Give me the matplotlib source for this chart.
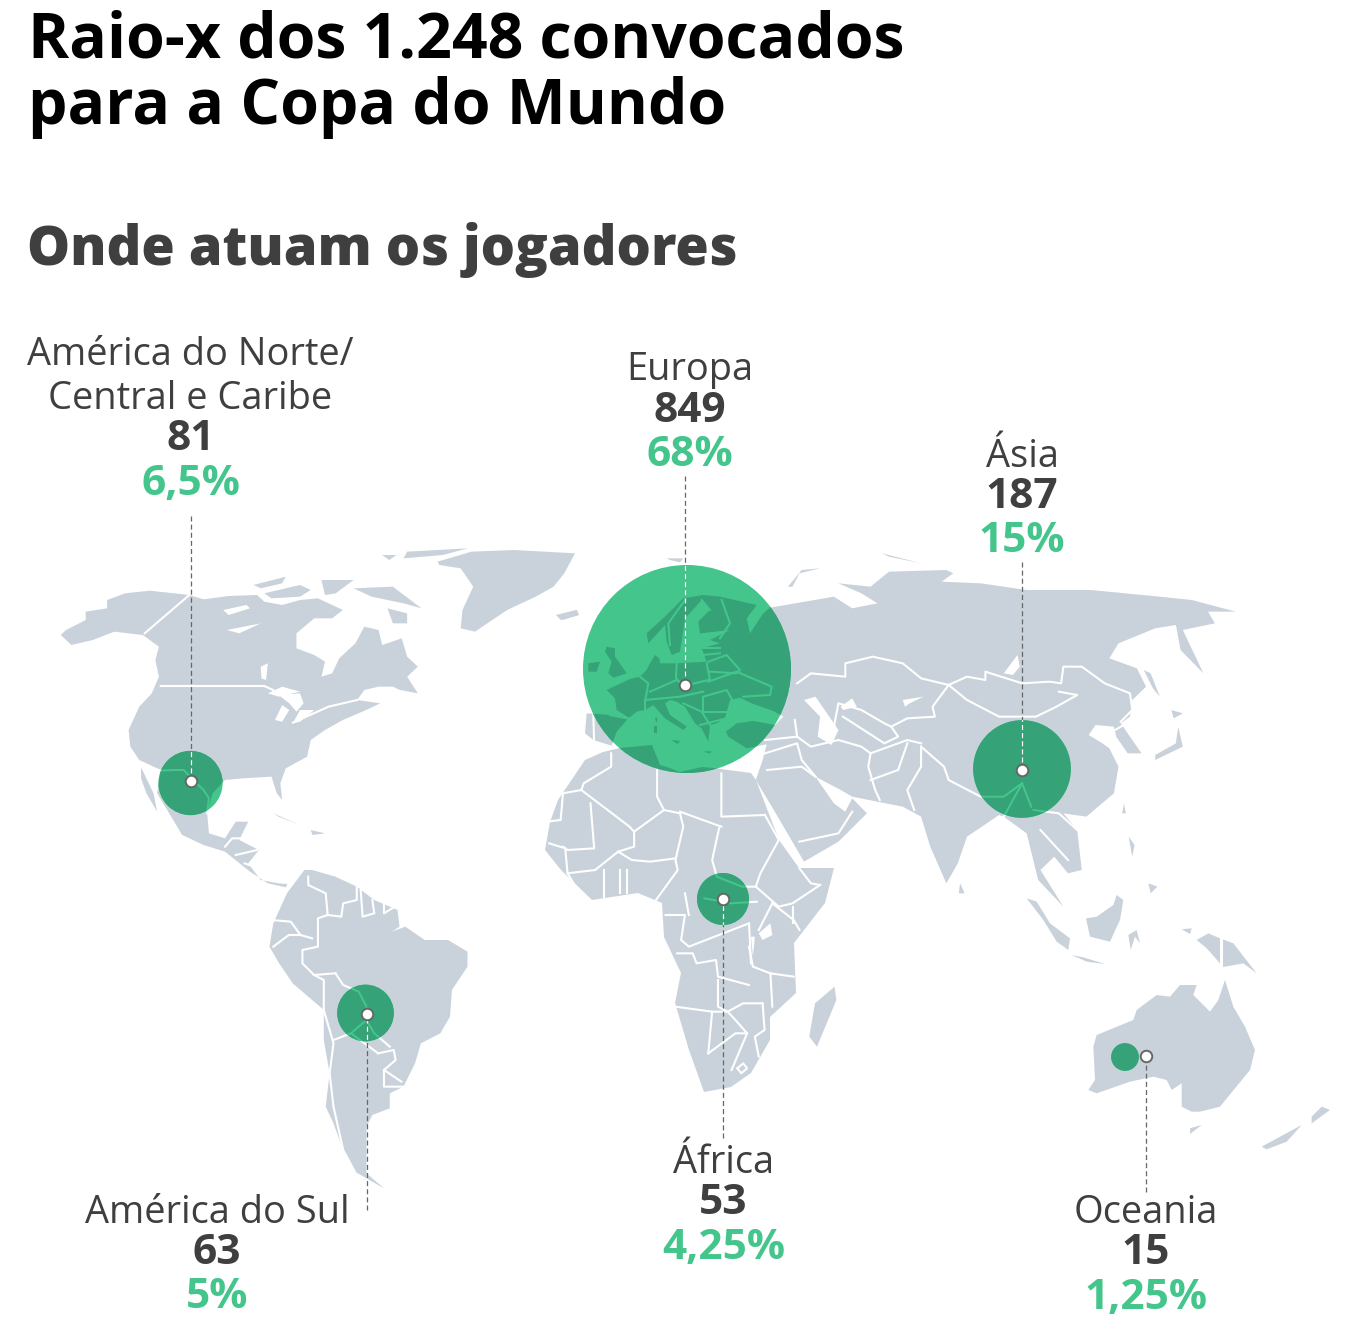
import numpy as np
import matplotlib
matplotlib.use('Agg')
import matplotlib.pyplot as plt
from matplotlib.patches import Circle, Polygon

# ---- data ----
regions = ['América do Norte/\nCentral e Caribe', 'Europa', 'Ásia', 'África', 'América do Sul', 'Oceania']
players = [81, 849, 187, 53, 63, 15]
shares = ['6,5%', '68%', '15%', '4,25%', '5%', '1,25%']
title = 'Raio-x dos 1.248 convocados\npara a Copa do Mundo'
subtitle = 'Onde atuam os jogadores'

# ---- layout ----
W, H = 1351, 1333
bubble_xy = [(190.5, 783), (687, 669), (1022, 769), (723, 899), (365.5, 1013), (1125, 1057)]
pin_xy = [(190.5, 781), (685, 685), (1022, 770), (723, 899), (367, 1014), (1146, 1056)]
line_end = [516, 476, 562, 1138, 1210, 1192]
label_x = [190.5, 690, 1022, 723.5, 217, 1146]
label_top = [351, 366, 453, 1159, 1209, 1209]
LAND, DARK, GREEN, TXT = '#c9d2da', '#35a277', '#43c58b', '#3f3f3f'
R_SCALE = 104 / np.sqrt(849)

def z(pts, ox, oy, sx, sy):
    return [(ox + a / sx, oy + b / sy) for a, b in pts]
def z1(p): return z(p, 50, 530, 2.8, 3)
def z2(p): return z(p, 540, 540, 2.178, 3)
def z3(p): return z(p, 250, 860, 2.575, 3)
def z4(p): return z(p, 1000, 880, 3, 3)
def z5(p): return z(p, 570, 555, 3, 3)

land = [z1(p) for p in [
 [(45,300),(100,270),(100,245),(160,235),(160,210),(210,190),(280,182),(390,195),(430,208),(500,198),(580,195),(600,215),(650,225),(700,210),(750,205),(790,225),(820,240),(790,265),(740,265),(690,310),(690,355),(740,375),(770,395),(760,440),(790,430),(810,385),(855,340),(880,290),(920,300),(930,345),(985,325),(1000,380),(1030,410),(1000,440),(1030,490),(980,480),(960,470),(920,470),(880,480),(860,510),(925,520),(885,540),(820,570),(770,600),(730,630),(720,680),(660,715),(645,760),(650,810),(635,790),(620,740),(540,745),(490,750),(455,790),(440,850),(445,910),(490,925),(520,875),(555,875),(530,930),(585,960),(555,1000),(590,1050),(640,1060),(665,1062),(660,1072),(610,1060),(560,1025),(490,965),(430,945),(370,915),(345,870),(300,790),(310,720),(250,690),(225,650),(220,600),(250,530),(285,490),(305,440),(295,390),(305,350),(260,315),(180,305),(120,330),(60,345),(30,315)],
 [(255,712),(290,790),(300,845),(270,790),(255,745)],
 [(1085,95),(1180,65),(1300,60),(1470,70),(1440,130),(1410,170),(1360,200),(1280,240),(1190,305),(1150,295),(1155,240),(1185,170),(1150,115),(1090,105)],
 [(1420,255),(1475,240),(1480,255),(1435,270)],
 [(570,165),(660,140),(650,160),(590,175)],
 [(600,190),(700,165),(730,180),(700,200),(620,205)],
 [(760,150),(850,150),(800,190),(770,195)],
 [(850,175),(960,170),(1040,235),(990,220),(900,200)],
 [(930,75),(970,75),(950,90)],
 [(1000,65),(1170,55),(1100,75),(990,85)],
 [(945,235),(1000,250),(1000,280),(960,280)],
 [(625,850),(700,885),(640,860)],
 [(730,900),(770,910),(735,915)],
]]
# Eurasia: Europe traced finely, the rest more broadly
eurasia = (
 z5([(125,572),(70,555),(45,535),(50,475),(120,480),(180,490),(140,465),(135,430),(110,405),(180,372),(210,365),(230,345),(240,325),(255,300),(268,310),(270,325),(320,325),(410,320),(395,280),(450,265),(420,255),(480,225),(390,235),(385,200),(420,165),(395,135),(345,190),(330,290),(305,300),(290,260),(285,210),(235,265),(230,235),(290,180),(340,130),(400,120),(450,125),(560,150),(530,190),(540,235),(580,175),(600,158)])
 + z2([(640,170),(680,205),(735,190),(700,160),(650,130),(720,140),(760,95),(885,90),(900,100),(875,125),(960,130),(1060,150),(1200,150),(1350,170),(1420,180),(1515,215),(1455,215),(1470,250),(1400,270),(1445,400),(1395,330),(1385,255),(1340,265),(1260,310),(1240,355),(1300,385),(1320,440),(1290,480),(1285,530),(1265,550),(1310,640),(1280,640),(1255,590),(1250,560),(1210,555),(1195,585),(1225,610),(1240,625),(1260,680),(1250,760),(1190,830),(1140,820),(1170,870),(1180,990),(1150,1000),(1120,950),(1090,990),(1140,1100),(1085,1020),(1060,880),(1010,830),(1000,825),(930,890),(910,970),(885,1030),(850,920),(830,830),(790,800),(735,785),(680,770),(655,750),(600,710),(640,790),(665,815),(680,775),(712,820),(650,905),(575,965),(505,800),(470,720),(485,660)])
 + z5([(590,568),(530,580),(475,545),(468,530),(500,505),(550,498),(615,510),(640,485),(610,468),(545,445),(510,428),(480,435),(465,490),(440,505),(420,510),(415,560),(395,520),(375,505),(345,455),(320,440),(300,435),(285,445),(300,480),(350,515),(340,525),(285,490),(250,450),(225,465),(200,470),(175,490),(140,530)])
)
land.append(eurasia)
land += [z5(p) for p in [
 [(110,275),(135,280),(135,305),(170,355),(130,368),(115,355),(125,320),(105,290)],
 [(55,325),(90,320),(80,350),(55,350)],
 [(252,512),(260,512),(260,535),(252,535)],
 [(255,488),(262,488),(260,505)],
 [(305,555),(330,558),(322,567)],
 [(400,590),(425,588),(420,595)],
 [(290,10),(340,10),(330,22),(300,15)],
]]
land += [z2(p) for p in [
 [(35,225),(80,210),(85,225),(45,240)],
 [(540,140),(570,90),(610,85),(565,100),(550,140)],
 [(745,40),(830,70),(760,50)],
 # Japan, Sakhalin etc.
 [(1390,560),(1400,620),(1340,660),(1340,645),(1385,610)],
 [(1375,510),(1400,520),(1380,535)],
 [(1315,390),(1330,400),(1350,470),(1335,445)],
 [(915,1030),(925,1060),(912,1060)],
 [(1272,790),(1276,820),(1268,820)],
 [(1282,890),(1295,915),(1290,950)],
 [(1325,1030),(1345,1040),(1330,1060)],
]]
land += [z3(p) for p in [
 # South America
 [(50,260),(60,190),(95,100),(140,30),(160,30),(220,50),(275,80),(320,120),(380,150),(385,200),(365,215),(400,200),(450,240),(510,240),(560,275),(560,320),(520,390),(515,470),(490,520),(440,550),(425,610),(395,680),(360,700),(360,745),(315,765),(300,800),(300,880),(300,940),(345,985),(270,935),(240,870),(215,790),(195,740),(205,640),(190,540),(190,450),(110,370),(75,310)],
 # Madagascar
 [(1505,380),(1510,420),(1460,560),(1440,530),(1455,430)],
]]
# Africa
land.append([(550,822),(558,800),(585,760),(603,752),(620,748),(652,745),(660,765),(667,767),(680,772),(702,767),(713,768),(751,773),(756,780),(779,840),(799,868),(834,868),(825,903),(794,943),(796,993),(770,1017),(770,1040),(751,1073),(731,1087),(704,1092),(689,1050),(675,1003),(681,973),(664,937),(662,903),(638,893),(592,900),(561,870),(545,850)])
land += [z4(p) for p in [
 # Oceania and Indonesia
 [(265,630),(285,600),(280,500),(290,465),(400,420),(410,390),(470,345),(510,350),(540,315),(590,315),(580,345),(630,395),(655,360),(675,300),(700,380),(735,440),(765,510),(750,570),(660,680),(600,695),(575,695),(545,680),(545,610),(515,630),(500,600),(460,590),(390,605),(290,640)],
 [(570,745),(605,735),(570,762)],
 [(785,800),(905,735),(860,785),(800,808)],
 [(935,710),(965,680),(990,690),(935,730)],
 [(80,55),(110,65),(150,130),(210,175),(205,210),(170,185),(130,120)],
 [(215,225),(250,232),(315,252),(260,245)],
 [(258,115),(290,110),(340,75),(350,45),(370,60),(360,120),(330,185),(270,170)],
 [(385,165),(410,150),(420,190),(405,170),(392,210)],
 [(545,148),(575,145),(570,162)],
 [(590,180),(625,160),(660,175),(660,250),(620,205)],
 [(668,178),(700,190),(770,280),(730,250),(665,262)],
]]

lakes = [z1(p) for p in [
 [(630,570),(650,525),(670,540),(650,575)],
 [(680,580),(700,540),(740,540),(700,575)],
 [(610,490),(650,470),(700,485),(640,500)],
 [(640,495),(700,490),(710,520),(690,545),(670,520)],
 [(485,240),(550,225),(560,235),(500,255)],
 [(495,300),(590,280),(530,310)],
 [(590,410),(610,400),(605,450),(592,445)],
]]
lakes += [z2(p) for p in [
 [(575,480),(600,470),(630,530),(650,570),(635,615),(605,590),(610,530)],
 [(655,500),(680,475),(690,500),(660,510)],
 [(790,480),(835,470),(805,490),(795,500)],
 [(1010,400),(1040,345),(1045,380),(1030,405)],
]]
lakes += [z3(p) for p in [
 [(1310,220),(1340,190),(1345,225),(1320,240)],
 [(1290,230),(1300,230),(1295,290)],
]]

borders = [z1(p) for p in [
 [(310,468),(600,468),(625,480)],
 [(390,195),(265,310)],
 [(680,578),(780,530),(860,510)],
 [(255,705),(310,722),(345,720),(375,720),(400,750),(430,780),(445,805),(440,850)],
 [(490,950),(510,925),(540,925)],
 [(520,975),(580,960)],
 [(545,1000),(585,1015)],
]]
borders += [z5(p) for p in [
 [(70,478),(72,555)],
 [(120,480),(180,492)],
 [(210,365),(235,385),(225,440),(225,465)],
 [(320,325),(318,370),(332,385)],
 [(240,410),(320,375),(345,392),(415,375)],
 [(410,325),(420,375)],
 [(420,350),(500,355),(510,345),(470,300),(415,320)],
 [(415,380),(500,350),(605,395),(600,420),(520,425)],
 [(400,425),(470,405),(490,440)],
 [(395,300),(450,295)],
 [(400,280),(450,280)],
 [(455,135),(480,205),(450,250)],
 [(345,135),(295,205),(300,270)],
 [(395,135),(420,165)],
 [(225,435),(330,425),(400,410)],
 [(340,445),(395,470),(420,510)],
 [(395,470),(475,470)],
 [(400,470),(400,425)],
 [(390,510),(470,490)],
]]
borders += [z2(p) for p in [
 # North Africa
 [(155,640),(155,680),(95,730),(90,750),(50,760),(45,840),(15,845)],
 [(90,750),(195,860),(205,875),(270,810),(255,770),(255,690)],
 [(110,790),(118,925),(60,930),(50,920)],
 [(205,875),(205,920),(170,935),(120,990)],
 [(270,810),(305,820),(312,860),(295,960),(300,990),(250,1085)],
 [(305,815),(395,860)],
 [(395,700),(395,830),(490,825)],
 [(390,865),(375,960),(385,1010),(440,1040),(470,1040)],
 [(490,825),(520,900),(480,1000),(470,1040),(520,1100),(550,1090),(610,1035)],
 [(565,985),(590,1030),(610,1035)],
 [(550,1100),(550,1150)],
 [(170,935),(200,960),(240,965),(295,955)],
 [(20,910),(55,925),(60,1000),(95,1080)],
 [(60,1000),(120,990)],
 [(140,990),(140,1070)],[(175,990),(175,1060)],[(190,990),(190,1060)],
 # Asia
 [(560,430),(590,400),(665,410),(665,370),(725,350),(790,370),(830,415),(890,435)],
 [(890,435),(930,410),(970,420),(970,395),(1050,430),(1110,425),(1135,430),(1140,380),(1180,380),(1230,430),(1285,460),(1290,510),(1265,545)],
 [(890,435),(930,480),(1000,530),(1080,530),(1125,500),(1170,465),(1130,455)],
 [(890,435),(855,500),(860,530),(800,535),(765,560)],
 [(640,560),(650,490),(700,510),(750,550),(765,560)],
 [(660,530),(750,610),(780,590),(765,560)],
 [(560,590),(590,620),(650,600),(700,620),(720,640),(715,680),(730,750),(740,780)],
 [(720,640),(800,600),(830,610)],
 [(720,720),(780,690),(800,610)],
 [(830,620),(880,680),(890,720),(960,770),(1010,770),(1050,730),(1070,800)],
 [(830,620),(830,680),(800,750),(815,810)],
 [(1010,830),(1050,730)],
 [(1075,810),(1130,820),(1170,870)],
 [(1090,870),(1110,900),(1150,960)],
 [(495,690),(570,680),(600,710)],
 [(490,640),(560,610),(570,660),(600,710)],
 [(490,600),(560,590)],
 [(555,540),(560,590)],
 [(565,905),(650,880),(680,815)],
 [(1240,580),(1290,540)],
]]
borders += [z3(p) for p in [
 # South America
 [(150,50),(150,75),(195,100),(200,165),(235,170),(240,130),(275,120),(275,80)],
 [(285,90),(290,170),(320,160),(315,120)],
 [(345,115),(345,160),(380,135)],
 [(200,165),(175,175),(175,260),(135,270),(135,310),(165,345),(220,340)],
 [(55,180),(105,185),(130,225),(160,235)],
 [(60,260),(100,225),(130,225)],
 [(165,345),(190,360),(190,450),(215,550),(205,640),(215,740),(240,870),(270,935)],
 [(220,340),(240,375),(280,395),(300,440),(300,480),(320,520),(360,560)],
 [(215,540),(260,520),(300,480)],
 [(330,580),(370,570),(375,600),(345,630),(345,680),(395,680)],
 [(345,630),(390,665)],
 [(260,520),(330,580)],
 # Southern Africa
 [(1100,280),(1140,280),(1150,310),(1200,300),(1205,350),(1285,375)],
 [(1095,440),(1190,455),(1230,455),(1270,430),(1320,430)],
 [(1205,360),(1205,440),(1230,455)],
 [(1190,455),(1180,580)],
 [(1180,580),(1250,520),(1280,520),(1250,480),(1230,455)],
 [(1320,430),(1325,510),(1300,530),(1310,590)],
 [(1280,520),(1240,630)],
 [(1285,260),(1295,320),(1340,340),(1400,350)],
 [(1345,130),(1400,180),(1415,210)],
 [(1345,130),(1310,210)],
 [(1285,190),(1290,310)],
 [(1340,340),(1345,440)],
 [(1255,625),(1270,610),(1280,625),(1265,640),(1255,625)],
 [(1070,165),(1120,165),(1110,240),(1130,260),(1285,190)],
 [(1120,100),(1130,165)],
 [(1170,115),(1240,130),(1305,125)],
]]
borders += [z4(p) for p in [[(665,175),(665,262)]]]

# ---- figure ----
plt.rcParams['font.family'] = ['Open Sans', 'DejaVu Sans']
fig = plt.figure(figsize=(W / 100, H / 100), dpi=100)
ax = fig.add_axes([0, 0, 1, 1])
ax.set_xlim(0, W); ax.set_ylim(H, 0); ax.axis('off')

def draw_map(face, edge, water, clip=None, lw=1.5):
    arts = []
    for p in land:
        arts.append(ax.add_patch(Polygon(p, closed=True, fc=face, ec='none', zorder=3 if clip else 1)))
    for p in lakes:
        arts.append(ax.add_patch(Polygon(p, closed=True, fc=water, ec='none', zorder=3.1 if clip else 1.1)))
    for p in borders:
        xs, ys = zip(*p)
        arts += ax.plot(xs, ys, color=edge, lw=lw, solid_joinstyle='round', zorder=3.2 if clip else 1.2)
    if clip is not None:
        for a in arts:
            a.set_clip_path(clip)

draw_map(LAND, 'white', 'white')

for (x, y), n, (px, py), ye in zip(bubble_xy, players, pin_xy, line_end):
    c = Circle((x, y), R_SCALE * np.sqrt(n), fc=GREEN, ec='none', zorder=2)
    ax.add_patch(c)
    draw_map(DARK, GREEN, GREEN, clip=c)
    ax.plot([px, px], [ye, py], color='#666666', lw=0.9, ls=(0, (4, 2.5)), zorder=4)
    white, = ax.plot([px, px], [ye, py], color='white', lw=0.9, ls=(0, (4, 2.5)), zorder=4.1)
    white.set_clip_path(c)
    ax.plot([px], [py], 'o', ms=8.3, mfc='white', mec='#666666', mew=1.4, zorder=5)

# ---- text ----
ax.text(27.5, 57, title.split('\n')[0], fontsize=45, fontweight='bold', color='black', va='baseline', ha='left')
ax.text(27.5, 124, title.split('\n')[1], fontsize=45, fontweight='bold', color='black', va='baseline', ha='left')
ax.text(27, 265, subtitle, fontsize=39, fontweight=800, color=TXT, va='baseline', ha='left')

LS = 44
for name, n, s, x, top in zip(regions, players, shares, label_x, label_top):
    y = top + 4
    for line in name.split('\n'):
        ax.text(x, y, line, fontsize=27.4, color=TXT, ha='center', va='center')
        y += LS
    ax.text(x, y - 3, str(n), fontsize=30.5, fontweight='bold', color=TXT, ha='center', va='center')
    ax.text(x, y + 41, s, fontsize=30.5, fontweight='bold', color=GREEN, ha='center', va='center')

fig.savefig('out.png', dpi=100)
